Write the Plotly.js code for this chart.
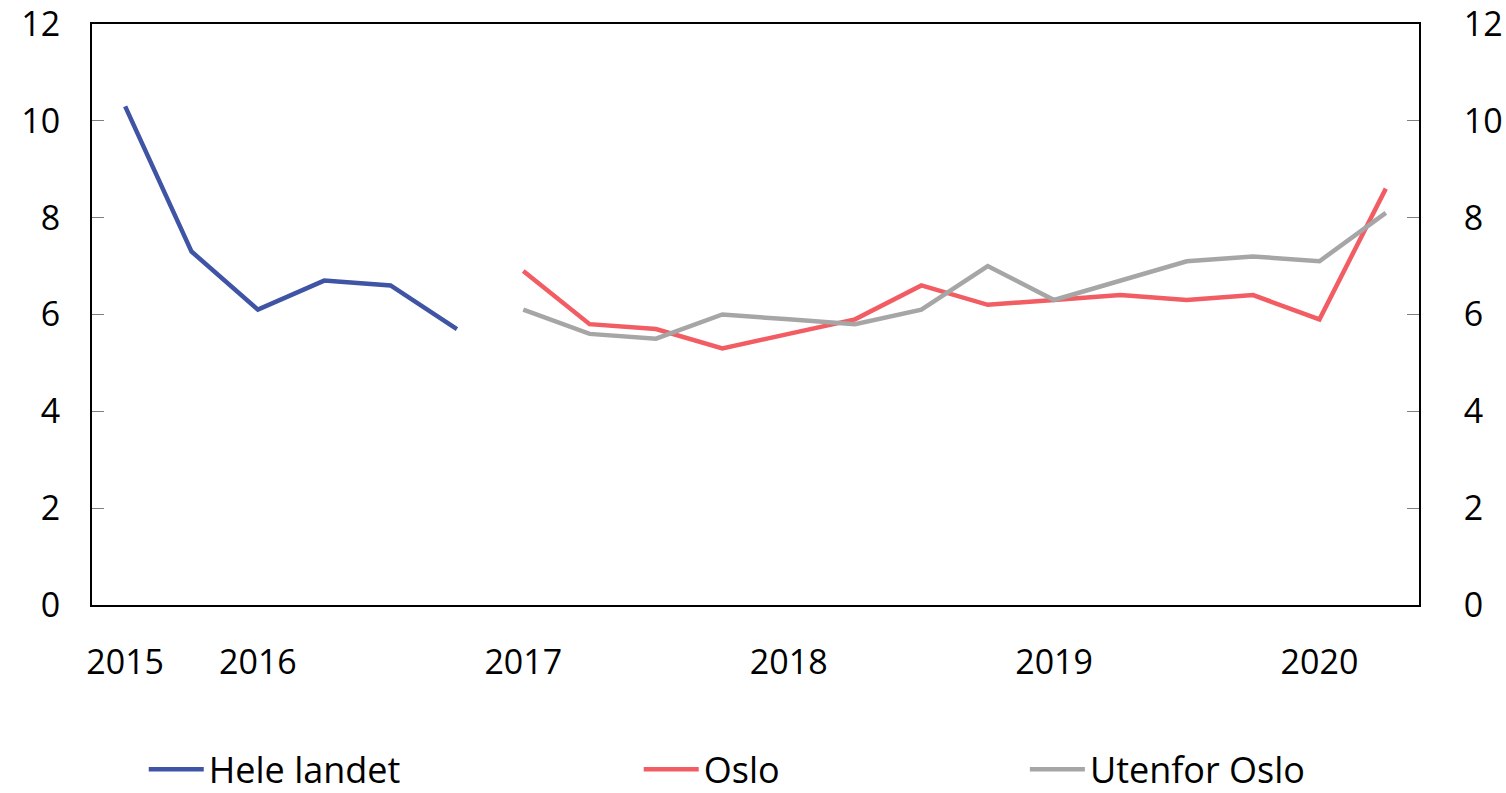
<!DOCTYPE html>
<html>
<head>
<meta charset="utf-8">
<script src="https://cdn.plot.ly/plotly-3.0.1.min.js"></script>
<style>html,body{margin:0;padding:0;background:#fff;}#chart{width:1506px;height:793px;}</style>
</head>
<body>
<div id="chart"></div>
<script>
// Period index positions on the x axis
const xHele = [0, 1, 2, 3, 4, 5];
const xRegion = [6, 7, 8, 9, 10, 11, 12, 13, 14, 15, 16, 17, 18, 19];

// Series values
const heleLandet = [10.3, 7.3, 6.1, 6.7, 6.6, 5.7];
const oslo = [6.9, 5.8, 5.7, 5.3, 5.6, 5.9, 6.6, 6.2, 6.3, 6.4, 6.3, 6.4, 5.9, 8.6];
const utenforOslo = [6.1, 5.6, 5.5, 6.0, 5.9, 5.8, 6.1, 7.0, 6.3, 6.7, 7.1, 7.2, 7.1, 8.1];

// Tick labels
const xTickVals = [0, 2, 6, 10, 14, 18];
const xTickText = ["2015", "2016", "2017", "2018", "2019", "2020"];
const yTickVals = [0, 2, 4, 6, 8, 10, 12];
const yTickText = ["0", "2", "4", "6", "8", "10", "12"];

const FONT = "Open Sans, Noto Sans, sans-serif";
const fontSize = 34;

const traces = [
  {x: xHele, y: heleLandet, name: "Hele landet", type: "scatter", mode: "lines",
   line: {color: "#3F54A4", width: 4.5}, legend: "legend"},
  {x: xRegion, y: oslo, name: "Oslo", type: "scatter", mode: "lines",
   line: {color: "#F25C63", width: 4.5}, legend: "legend2"},
  {x: xRegion, y: utenforOslo, name: "Utenfor Oslo", type: "scatter", mode: "lines",
   line: {color: "#A6A6A6", width: 4.5}, legend: "legend3"},
  {x: [], y: [], yaxis: "y2", showlegend: false, hoverinfo: "skip", type: "scatter"}
];

const legendBase = {orientation: "h", yanchor: "middle", xanchor: "left", y: -0.283,
  itemwidth: 55,
  font: {family: FONT, size: 36, color: "#000"}, bgcolor: "rgba(0,0,0,0)"};

const axisY = {
  range: [0, 12], tickmode: "array", tickvals: yTickVals, ticktext: yTickText,
  showgrid: false, zeroline: false, ticklabeloverflow: "allow",
  ticks: "inside", ticklen: 12, tickwidth: 1, tickcolor: "#7f7f7f",
  showline: true, linecolor: "#000", linewidth: 2,
  tickfont: {family: FONT, size: fontSize, color: "#000"}
};

const layout = {
  width: 1506, height: 793,
  margin: {l: 92, r: 87, t: 24, b: 188, autoexpand: false},
  paper_bgcolor: "#fff", plot_bgcolor: "#fff",
  font: {family: FONT, size: fontSize, color: "#000"},
  xaxis: {
    range: [-0.5, 19.5], tickmode: "array", tickvals: xTickVals, ticktext: xTickText,
    showgrid: false, zeroline: false, ticks: "", showline: true, mirror: true,
    linecolor: "#000", linewidth: 2, ticklabelstandoff: 26,
    tickfont: {family: FONT, size: fontSize, color: "#000"}
  },
  yaxis: Object.assign({}, axisY, {ticklabelstandoff: 23}),
  yaxis2: Object.assign({}, axisY, {overlaying: "y", side: "right", ticklabelstandoff: 36}),
  legend: Object.assign({}, legendBase, {x: 0.039}),
  legend2: Object.assign({}, legendBase, {x: 0.412}),
  legend3: Object.assign({}, legendBase, {x: 0.703}),
  showlegend: true
};

Plotly.newPlot("chart", traces, layout, {displayModeBar: false, staticPlot: true});
</script>
</body>
</html>
